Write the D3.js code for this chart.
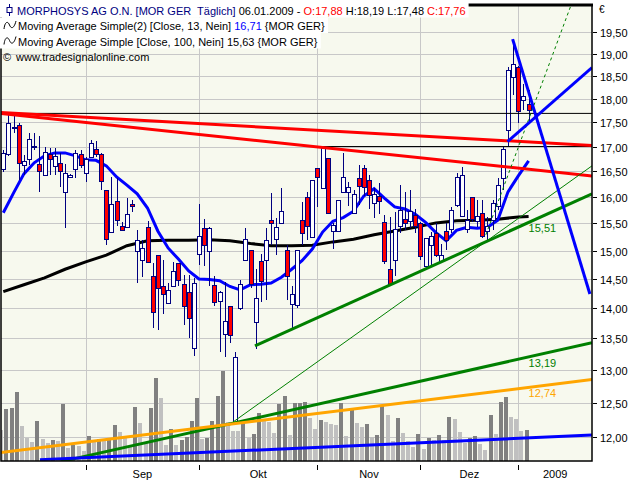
<!DOCTYPE html>
<html><head><meta charset="utf-8">
<script src="https://cdn.jsdelivr.net/npm/d3@7"></script>
<style>
body{margin:0;background:#fff;}
svg{display:block;font-family:"Liberation Sans",Arial,sans-serif;}
text{white-space:pre;}
</style></head><body>
<svg id="c" width="640" height="480"></svg>
<script>
// ---------- DATA ----------
const opens=[16.53,16.83,17.38,17.44,16.61,16.74,16.98,16.63,16.42,16.83,16.60,16.66,16.08,16.38,16.53,16.83,16.45,16.78,16.93,16.83,
16.13,15.34,15.92,15.45,15.43,15.86,14.98,14.82,15.43,14.55,14.92,14.37,14.08,14.37,14.77,14.41,14.27,13.33,14.93,15.40,
14.98,14.38,14.11,13.56,14.03,12.20,14.00,14.83,15.00,13.76,14.80,14.82,15.56,15.21,15.50,15.00,14.06,14.04,15.55,15.99,
15.24,16.56,16.17,16.76,15.35,15.35,16.08,16.09,15.68,16.35,16.56,16.32,15.88,16.01,15.51,14.67,14.83,15.44,15.58,15.54,
15.65,15.50,14.72,15.09,15.32,14.80,15.35,15.38,15.84,15.63,15.38,15.99,15.54,15.69,15.35,15.56,15.81,16.36,17.34,18.46,
18.70,17.96,17.88];
const highs=[16.93,17.66,17.66,17.48,16.83,17.27,17.27,17.21,17.00,16.96,16.97,16.86,16.65,16.44,16.93,16.93,16.79,17.13,17.12,16.86,
16.13,16.38,16.36,15.53,15.98,15.94,15.38,15.19,15.55,14.78,14.93,14.83,14.43,14.80,14.78,14.57,14.57,14.51,15.86,15.58,
15.43,14.55,14.29,14.45,14.04,13.28,14.48,15.41,15.01,14.67,14.95,15.41,16.08,15.60,16.17,15.10,14.37,15.00,15.91,16.10,
16.33,16.57,17.00,16.77,15.50,15.95,16.86,16.30,16.14,16.63,16.63,16.43,16.17,16.27,15.66,15.62,15.72,16.23,16.10,16.14,
15.78,15.53,15.22,15.35,15.50,15.13,15.50,15.81,16.47,16.59,15.75,16.00,15.94,15.94,15.62,15.94,16.36,17.00,18.71,19.32,
18.72,18.33,18.19];
const lows=[16.49,16.81,17.28,16.33,16.43,16.63,16.93,16.09,16.41,16.43,16.43,16.20,15.41,16.36,16.36,16.56,16.30,16.76,16.79,16.14,
15.10,15.33,15.45,15.36,15.42,15.72,14.43,14.53,14.78,13.67,13.64,13.90,14.07,14.36,14.37,13.72,13.50,13.22,14.74,14.73,
14.37,14.03,13.28,13.21,13.43,12.19,13.97,14.82,14.34,13.33,14.11,14.14,15.10,14.92,15.49,14.14,13.67,14.00,15.10,15.19,
15.23,15.81,16.16,15.67,15.04,15.34,16.07,15.83,15.67,15.84,16.01,15.78,15.60,15.68,14.77,14.37,14.55,15.32,15.38,15.41,
15.32,14.83,14.69,14.74,14.89,14.79,15.01,15.32,15.80,15.63,15.32,15.53,15.44,15.24,15.19,15.38,15.75,16.14,17.00,18.08,
17.48,17.76,17.48];
const closes=[16.86,17.48,17.40,16.66,16.69,17.14,17.00,16.50,16.87,16.73,16.79,16.50,16.46,16.42,16.86,16.61,16.73,17.06,16.83,16.30,
15.20,15.86,15.55,15.37,15.67,15.81,15.19,15.04,14.79,13.92,14.34,14.23,14.30,14.63,14.48,14.03,13.83,14.42,15.25,15.09,
15.41,14.09,14.27,13.78,13.54,13.20,14.40,15.20,14.40,14.17,14.45,15.18,15.50,15.42,15.73,14.55,14.23,15.00,15.31,15.45,
16.32,16.37,16.95,15.68,15.47,15.94,16.38,16.18,16.04,16.20,16.19,16.02,16.04,15.91,14.80,14.40,15.38,15.75,15.49,15.72,
15.44,14.89,15.22,15.25,14.92,14.92,15.18,15.75,16.37,16.41,15.56,15.58,15.63,15.25,15.44,15.88,16.23,16.93,18.62,18.75,
17.72,18.05,17.76];
const volumes=[310,520,530,690,350,233,190,400,220,180,210,200,570,133,160,150,100,250,193,217,
203,220,360,290,240,153,540,380,190,530,830,630,157,320,160,213,237,400,630,223,
233,400,653,903,387,303,300,387,233,270,483,420,393,280,570,653,260,580,580,587,
430,320,410,393,370,360,580,253,520,380,343,370,243,260,553,463,203,430,280,203,
143,270,120,230,210,260,213,443,420,287,180,233,250,170,113,463,270,587,640,440,
420,300,310];
// Moving average 13 (blue), read every second bar
const ma13Idx=d3.range(0,103,2);
const ma13=[15.70,16.08,16.45,16.67,16.81,16.87,16.87,16.81,16.73,16.72,16.61,16.39,16.23,16.06,15.79,15.36,15.05,14.85,14.64,14.50,
14.49,14.47,14.37,14.31,14.40,14.41,14.43,14.53,14.67,14.82,15.03,15.34,15.54,15.61,15.73,16.02,16.16,15.98,15.81,15.77,
15.67,15.52,15.33,15.18,15.37,15.43,15.41,15.43,15.56,16.10,16.41,16.71];
// Moving average 100 (black)
const ma100Idx=[0,4,8,12,16,20,24,28,32,36,40,44,48,52,56,60,64,68,72,76,80,84,88,92,96,100,102];
const ma100=[14.28,14.40,14.52,14.67,14.80,14.92,15.09,15.18,15.19,15.19,15.20,15.18,15.13,15.09,15.09,15.10,15.16,15.21,15.29,15.36,
15.43,15.51,15.55,15.56,15.58,15.62,15.63];
// axes
const priceTicks=[12,12.5,13,13.5,14,14.5,15,15.5,16,16.5,17,17.5,18,18.5,19,19.5];
const monthTicks=[16,38,61,81,100];
const monthLabels=["Sep","Okt","Nov","Dez","2009"];
// drawn lines: [barIndex, price] end points
const trendRedUpper=[[-0.64,17.71],[114.31,17.02]];
const trendRedLower=[[-0.64,17.69],[114.31,16.41]];
const levelHigh=[[-0.64,17.69],[114.31,17.69]];
const levelMid=[[61.5,17.00],[114.31,17.00]];
const trendGreenMain=[[48.87,13.38],[114.31,16.06]];
const trendGreenThin=[[44.6,12.21],[114.31,16.61]];
const trendGreenDash=[[93.7,15.29],[110.4,20.20]];
const trendGreenLong=[[11.0,11.64],[114.31,13.43]];
const trendOrange=[[-0.64,11.77],[114.31,12.85]];
const trendBlueBase=[[7.12,11.67],[114.31,12.02]];
const trendBlueDown=[[98.9,19.34],[113.9,14.24]];
const trendBlueUp=[[97.9,17.10],[114.31,18.69]];
const lineLabelValues=[15.51,13.19,12.74];
// legend values
const lastBar={date:"06.01.2009",o:17.88,h:18.19,l:17.48,c:17.76};
const ma13Last=16.71, ma100Last=15.63;

// ---------- DRAWING ----------
const svg=d3.select("#c");
const L=1,R=592,T=5,B=461;
const x=d3.scaleLinear().domain([0,102]).range([3.3,528.6]);
const y=d3.scaleLog().domain([12,19.5]).range([436.5,32.3]);
const yv=d3.scaleLinear().domain([0,1000]).range([B,B-100]);
const fmt=v=>d3.format(".2f")(v).replace(".",",");

svg.append("rect").attr("width",640).attr("height",480).attr("fill","#fff");
svg.append("rect").attr("x",L).attr("y",T).attr("width",R-L).attr("height",B-T).attr("fill","#F7F9EE");
svg.append("defs").append("clipPath").attr("id","clip").append("rect")
  .attr("x",L).attr("y",T).attr("width",R-L).attr("height",B-T);
const g=svg.append("g").attr("clip-path","url(#clip)");

// grid
g.append("g").selectAll("line").data(priceTicks).join("line")
  .attr("x1",L).attr("x2",R).attr("y1",d=>Math.round(y(d))+0.5).attr("y2",d=>Math.round(y(d))+0.5)
  .attr("stroke","#C8C8C8").attr("stroke-width",1);
g.append("g").selectAll("line").data(monthTicks).join("line")
  .attr("x1",d=>Math.round(x(d))+0.5).attr("x2",d=>Math.round(x(d))+0.5).attr("y1",T).attr("y2",B)
  .attr("stroke","#C8C8C8").attr("stroke-width",1);

// volume
g.append("g").attr("shape-rendering","crispEdges").selectAll("rect").data(volumes).join("rect")
  .attr("x",(d,i)=>Math.round(x(i))-4).attr("width",4)
  .attr("y",d=>yv(d)).attr("height",d=>B-yv(d))
  .attr("fill",(d,i)=>i>0&&d>=volumes[i-1]?"#808080":"#C0C0C0");

// line helper
const seg=(pts,color,w,dash)=>{
  const l=g.append("line")
    .attr("x1",x(pts[0][0])).attr("y1",y(pts[0][1]))
    .attr("x2",x(pts[1][0])).attr("y2",y(pts[1][1]))
    .attr("stroke",color).attr("stroke-width",w);
  if(dash) l.attr("stroke-dasharray",dash);
};

// moving averages
const line=d3.line().x(d=>x(d[0])).y(d=>y(d[1]));
g.append("path").datum(ma100Idx.map((d,i)=>[d,ma100[i]])).attr("d",line)
  .attr("fill","none").attr("stroke","#000").attr("stroke-width",3);
g.append("path").datum(ma13Idx.map((d,i)=>[d,ma13[i]])).attr("d",line)
  .attr("fill","none").attr("stroke","#0000FF").attr("stroke-width",3);

// candles
const cg=g.append("g").attr("shape-rendering","crispEdges");
opens.forEach((o,i)=>{
  const cx=Math.round(x(i)), c=closes[i];
  cg.append("line").attr("x1",cx+0.5).attr("x2",cx+0.5)
    .attr("y1",y(highs[i])).attr("y2",y(lows[i])).attr("stroke","#000080");
  const top=y(Math.max(o,c)), bot=y(Math.min(o,c));
  cg.append("rect").attr("x",cx-1.5).attr("width",4)
    .attr("y",top).attr("height",Math.max(1,bot-top))
    .attr("fill",c>=o?"#FFFFFF":"#FF0000").attr("stroke","#000080");
});

// trend lines
seg(levelHigh,"#000",1);
seg(levelMid,"#000",1);
seg(trendRedUpper,"#FF0000",3);
seg(trendRedLower,"#FF0000",3);
seg(trendGreenThin,"#008000",1);
seg(trendGreenDash,"#008000",1,"3,3");
seg(trendGreenMain,"#008000",3);
seg(trendGreenLong,"#008000",3);
seg(trendOrange,"#FFA500",3);
seg(trendBlueBase,"#0000FF",3);
seg(trendBlueDown,"#0000FF",3);
seg(trendBlueUp,"#0000FF",3);

// line value labels at last bar
const atBar=(pts,i)=>{const x1=x(pts[0][0]),x2=x(pts[1][0]),y1=y(pts[0][1]),y2=y(pts[1][1]);
  return y1+(y2-y1)*(x(i)-x1)/(x2-x1);};
[[trendGreenMain,"#008000"],[trendGreenLong,"#008000"],[trendOrange,"#FFA500"]].forEach((d,k)=>{
  svg.append("text").attr("x",x(102)).attr("y",atBar(d[0],102)+10)
    .attr("font-size",11).attr("fill",d[1]).text(fmt(lineLabelValues[k]));
});

// frame
svg.append("rect").attr("x",L).attr("y",T).attr("width",R-L).attr("height",B-T)
  .attr("fill","none").attr("stroke","#000").attr("stroke-width",1.5);
svg.append("line").attr("x1",L).attr("x2",R+1).attr("y1",T).attr("y2",T).attr("stroke","#000").attr("stroke-width",3);

// right axis
const ra=svg.append("g");
priceTicks.forEach(p=>{
  const yy=Math.round(y(p))+0.5;
  ra.append("line").attr("x1",R+1).attr("x2",R+5).attr("y1",yy).attr("y2",yy).attr("stroke","#000");
  ra.append("text").attr("x",R+8).attr("y",yy+4).attr("font-size",11).attr("fill","#000").text(fmt(p));
});
ra.append("text").attr("x",R+7).attr("y",13).attr("font-size",10).text("€");

// bottom axis
const bounds=monthTicks.concat([x.invert(R)]);
monthTicks.forEach((m,k)=>{
  const xx=Math.round(x(m))+0.5;
  svg.append("line").attr("x1",xx).attr("x2",xx).attr("y1",B+4).attr("y2",B+9).attr("stroke","#000");
  svg.append("text").attr("x",x((bounds[k]+bounds[k+1])/2)).attr("y",478)
    .attr("text-anchor","middle").attr("font-size",11).text(monthLabels[k]);
});

// legend
const rows=[14.5,30,45.5,61];
function legendRow(yb,startX,parts,bg){
  const t=svg.append("text").attr("x",startX).attr("y",yb).attr("font-size",11);
  parts.forEach(p=>t.append("tspan").attr("fill",p[1]).text(p[0]));
  if(bg){
    const bb=t.node().getBBox();
    svg.insert("rect",()=>t.node()).attr("x",0).attr("y",yb-12.5).attr("width",bb.x+bb.width+3).attr("height",15.5).attr("fill","#fff");
  }
  return t;
}
legendRow(rows[0],17,[["MORPHOSYS AG O.N. [MOR GER  Täglich]","#000080"],[" "+lastBar.date+" - ","#000"],
  ["O:"+fmt(lastBar.o),"#FF0000"],[" H:"+fmt(lastBar.h)+" L:"+fmt(lastBar.l)+" ","#000"],["C:"+fmt(lastBar.c),"#FF0000"]],true);
legendRow(rows[1],18,[["Moving Average Simple(2) [Close, 13, Nein] ","#000"],[fmt(ma13Last),"#0000FF"],[" {MOR GER}","#000"]],true);
legendRow(rows[2],18,[["Moving Average Simple [Close, 100, Nein] "+fmt(ma100Last)+" {MOR GER}","#000"]],true);
legendRow(rows[3],16,[["www.tradesignalonline.com","#000"]],false);
svg.append("text").attr("x",3).attr("y",rows[3]).attr("font-size",11).text("©");
// legend icons
svg.append("line").attr("x1",9.5).attr("x2",9.5).attr("y1",4).attr("y2",16).attr("stroke","#000080");
svg.append("rect").attr("x",7).attr("y",7.5).attr("width",5).attr("height",5).attr("fill","#fff").attr("stroke","#000080");
[rows[1],rows[2]].forEach(yb=>{
  svg.append("path").attr("d",`M4,${yb-1} C5,${yb-9} 8,${yb-9} 9.5,${yb-5} S14,${yb-1} 16,${yb-9}`)
    .attr("fill","none").attr("stroke","#000").attr("stroke-width",1);
});
</script>
</body></html>
